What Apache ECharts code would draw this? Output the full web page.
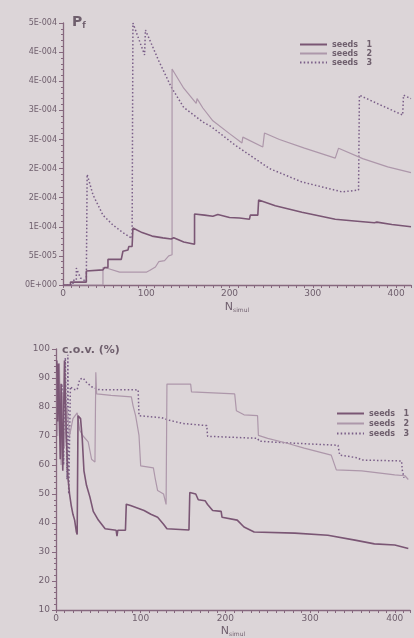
<!DOCTYPE html>
<html>
<head>
<meta charset="utf-8">
<script src="https://cdn.jsdelivr.net/npm/echarts@6/dist/echarts.min.js"></script>
<style>
html, body { margin: 0; padding: 0; background: #dcd5d8; }
#chart { width: 414px; height: 638px; }
</style>
</head>
<body>
<div id="chart"></div>
<script>
// Pf values are in units of 1E-004, [N_simul, Pf]
var seeds1Pf = [[0,0],[9,0],[9,0.05],[28,0.05],[28,0.24],[48,0.26],[50,0.3],[54,0.3],[54,0.44],[70,0.44],[72,0.58],[78,0.6],[79,0.66],[83,0.66],[84,0.98],[95,0.9],[107,0.84],[120,0.81],[130,0.79],[133,0.81],[145,0.74],[158,0.7],[158,1.22],[170,1.2],[180,1.18],[186,1.21],[200,1.16],[212,1.15],[224,1.13],[225,1.2],[234,1.2],[235,1.46],[255,1.36],[287,1.25],[327,1.13],[350,1.1],[374,1.07],[377,1.08],[395,1.04],[418,1.0]]
var seeds2Pf = [[0,0],[48,0],[48,0.3],[55,0.28],[68,0.22],[100,0.22],[104,0.25],[111,0.31],[115,0.4],[122,0.42],[127,0.5],[131,0.52],[131,3.71],[145,3.38],[160,3.12],[161,3.2],[168,3.04],[180,2.82],[200,2.6],[215,2.44],[216,2.54],[240,2.37],[242,2.61],[260,2.5],[290,2.35],[327,2.18],[331,2.35],[360,2.17],[390,2.03],[418,1.93]]
var seeds3Pf = [[0,0],[12,0],[12,0.08],[16,0.08],[16,0.29],[21,0.12],[28,0.06],[29,0.06],[29,1.9],[36,1.55],[48,1.2],[60,1.03],[72,0.9],[83,0.8],[84,4.5],[98,3.95],[99,4.38],[115,3.85],[130,3.4],[145,3.05],[168,2.8],[178,2.72],[180,2.74],[207,2.4],[248,2.0],[287,1.77],[335,1.6],[355,1.63],[356,3.26],[380,3.1],[408,2.92],[409,3.26],[418,3.2]]

// c.o.v. in %, [N_simul, cov]
var seeds1Cov = [[1,96],[2,75],[3,95],[5,62],[6,88],[8,58],[10,96],[12,72],[14,56],[16,50],[18,46],[20,43],[22,41],[24,37],[25,36],[26,77],[29,76],[31,69],[33,58],[36,53],[40,49],[44,44],[50,41],[58,38],[71,37.5],[72,35.5],[73,37.5],[82,37.5],[83,46.5],[88,46],[104,44.3],[112,43],[120,42],[127,39.6],[131,38],[157,37.6],[158,50.5],[165,50],[168,48],[176,47.7],[179,46.4],[185,44.3],[195,44],[196,42],[214,41],[222,38.6],[234,36.9],[282,36.5],[321,35.8],[353,34.1],[376,32.8],[400,32.4],[416,31.2]]
var seeds2Cov = [[1,92],[2,70],[4,95],[6,60],[8,85],[10,66],[13,80],[16,70],[20,76],[25,78],[28,72],[32,70],[38,68],[42,62],[46,61],[47,92],[48,84.5],[65,84],[89,83.5],[91,80.4],[94,77],[98,70.2],[100,59.7],[115,59],[117,55.6],[120,51.2],[127,50],[130,46.4],[131,87.9],[159,87.9],[160,85.2],[211,84.5],[213,78.7],[222,77.3],[238,77],[239,70.2],[250,69.2],[273,67.5],[293,65.8],[325,63.4],[331,58.3],[361,58],[400,56.6],[412,56.3],[416,55]]
var seeds3Cov = [[1,85],[3,95],[5,70],[7,88],[9,60],[11,97],[13,55],[14,98],[15,50],[17,87],[21,86],[25,86],[28,89.6],[32,90],[36,88.5],[42,87],[50,86],[97,85.9],[98,77],[125,76.3],[134,75.4],[150,74.3],[178,73.6],[179,69.9],[238,69.2],[240,68.2],[282,67.5],[333,66.8],[335,63.4],[356,62.5],[361,61.7],[408,61.4],[409,58],[411,55.6]]

// tick labels of the Pf axis as printed (0 .. 4.5E-4 step 5E-5)
var pfTickLabels = ['0E+000','5E-005','1E-004','2E-004','2E-004','3E-004','3E-004','4E-004','4E-004','5E-004']
var seedNames = ['seeds 1', 'seeds 2', 'seeds 3']

var axisColor = '#86687e'
var labelColor = '#6f5f6d'
var font = 'DejaVu Sans'
var seedStyles = [
  { color: '#7a5674', width: 1.6, type: 'solid' },
  { color: '#ad97aa', width: 1.2, type: 'solid' },
  { color: '#7a5e88', width: 1.5, type: [1.5, 2.2] }
]

function xAxisFor(gridIndex, gap) {
  return {
    gridIndex: gridIndex,
    type: 'value',
    min: 0,
    max: 418,
    interval: 10,
    splitLine: { show: false },
    axisLine: { lineStyle: { color: axisColor, width: 1.3 } },
    axisTick: { length: 3, lineStyle: { color: axisColor } },
    axisLabel: {
      color: labelColor, fontFamily: font, fontSize: 9, margin: 4,
      formatter: function (v) { return v % 100 === 0 ? String(v) : '' }
    },
    name: '{n|N}{s|simul}',
    nameLocation: 'middle',
    nameGap: gap,
    nameTextStyle: {
      rich: {
        n: { fontFamily: font, fontSize: 11, color: labelColor },
        s: { fontFamily: font, fontSize: 6, color: labelColor, padding: [6, 0, 0, 0] }
      }
    }
  }
}

var chart = echarts.init(document.getElementById('chart'), null, { renderer: 'canvas' })

var series = []
var pfSets = [seeds1Pf, seeds2Pf, seeds3Pf]
var covSets = [seeds1Cov, seeds2Cov, seeds3Cov]
for (var i = 0; i < 3; i++) {
  series.push({
    name: seedNames[i], type: 'line', xAxisIndex: 0, yAxisIndex: 0,
    data: pfSets[i], showSymbol: false, symbol: 'none', z: 3 - i,
    lineStyle: seedStyles[i], itemStyle: { color: seedStyles[i].color }
  })
}
for (var j = 0; j < 3; j++) {
  series.push({
    name: seedNames[j], type: 'line', xAxisIndex: 1, yAxisIndex: 1,
    data: covSets[j], showSymbol: false, symbol: 'none', z: 3 - j,
    lineStyle: seedStyles[j], itemStyle: { color: seedStyles[j].color }
  })
}

// legend: only the line sample, no symbol in the middle
var legendBase = {
  orient: 'vertical', itemWidth: 27, itemHeight: 9, itemGap: 0,
  selectedMode: false,
  itemStyle: { opacity: 0 },
  textStyle: { color: labelColor, fontFamily: font, fontSize: 8, fontWeight: 'bold', lineHeight: 9 },
  formatter: function (name) { return name.replace(' ', '   ') },
  data: seedNames
}

var option = {
  animation: false,
  backgroundColor: '#dcd5d8',
  title: [
    {
      text: '{p|P}{f|f}', left: 67, top: 9,
      textStyle: { rich: {
        p: { fontFamily: font, fontSize: 14, color: labelColor },
        f: { fontFamily: font, fontSize: 8, color: labelColor, padding: [8, 0, 0, 0] }
      } }
    },
    {
      text: 'c.o.v. (%)', left: 57, top: 340,
      textStyle: { fontFamily: font, fontSize: 11, fontWeight: 'bold', color: labelColor }
    }
  ],
  legend: [
    Object.assign({}, legendBase, { left: 294, top: 35 }),
    Object.assign({}, legendBase, { left: 331, top: 404, itemGap: 1 })
  ],
  grid: [
    { left: 63, right: 1, top: 23, bottom: 353 },
    { left: 56, right: 4, top: 349, bottom: 24 }
  ],
  xAxis: [xAxisFor(0, 16), xAxisFor(1, 15)],
  yAxis: [
    {
      gridIndex: 0, type: 'value', min: 0, max: 4.5, interval: 0.5,
      splitLine: { show: false },
      axisLine: { show: true, lineStyle: { color: axisColor, width: 1.3 } },
      axisTick: { show: true, length: 4, lineStyle: { color: axisColor } },
      minorTick: { show: true, splitNumber: 5, length: 2, lineStyle: { color: axisColor } },
      axisLabel: {
        color: labelColor, fontFamily: font, fontSize: 8, margin: 6,
        formatter: function (v) { return pfTickLabels[Math.round(v / 0.5)] }
      }
    },
    {
      gridIndex: 1, type: 'value', min: 10, max: 100, interval: 10,
      splitLine: { show: false },
      axisLine: { show: true, lineStyle: { color: axisColor, width: 1.3 } },
      axisTick: { show: true, length: 4, lineStyle: { color: axisColor } },
      minorTick: { show: true, splitNumber: 5, length: 2, lineStyle: { color: axisColor } },
      axisLabel: { color: labelColor, fontFamily: font, fontSize: 9, margin: 6 }
    }
  ],
  series: series
}

chart.setOption(option)
</script>
</body>
</html>
